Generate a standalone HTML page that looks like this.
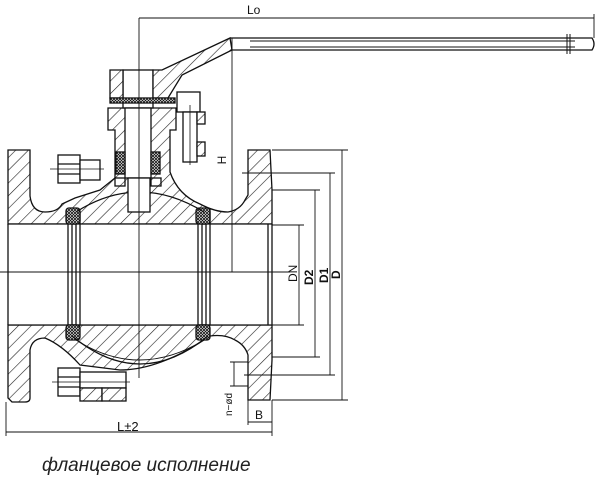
<!DOCTYPE html>
<html><head><meta charset="utf-8"><style>
html,body{margin:0;padding:0;background:#fff;width:603px;height:484px;overflow:hidden}
svg{display:block}
</style></head><body>
<svg width="603" height="484" viewBox="0 0 603 484" xmlns="http://www.w3.org/2000/svg">
<defs>
<pattern id="h" patternUnits="userSpaceOnUse" width="9" height="9" patternTransform="rotate(45)">
<rect width="9" height="9" fill="#fff"/><line x1="0" y1="0" x2="0" y2="9" stroke="#222" stroke-width="1.2"/>
</pattern>
<pattern id="x" patternUnits="userSpaceOnUse" width="3" height="3">
<rect width="3" height="3" fill="#fff"/><path d="M0,0L3,3M3,0L0,3" stroke="#111" stroke-width="0.8"/>
</pattern>
</defs>
<g fill="none" stroke="#111" stroke-width="1.3">
<path fill="url(#h)" d="M8,150 L30,150 L30,196 Q32,212 45,212 Q58,212 62,204 L75,198 L100,190 L115,178 L115,130 L108,130 L108,108 L176,108 L176,130 L170,130 L170,172 Q178,195 200,204 Q215,212 228,212 Q240,210 245,200 L248,195 L248,150 L270,150 L272,190 L272,224 L8,224 Z"/>
<path fill="url(#h)" d="M8,325 L272,325 L272,360 L270,400 L248,400 L248,355 Q245,345 235,340 Q225,334 210,336 Q160,370 120,370 L80,365 Q62,345 45,338 Q32,338 30,350 L30,398 Q30,402 25,402 L12,402 L8,398 Z"/>
<rect x="8" y="224" width="264" height="101" fill="#fff" stroke="none"/>
<line x1="8" y1="224" x2="272" y2="224"/><line x1="8" y1="325" x2="272" y2="325"/>
<line x1="8" y1="224" x2="8" y2="325"/><line x1="272" y1="224" x2="272" y2="325"/>
<line x1="268" y1="224" x2="268" y2="325"/>
<rect x="68" y="212" width="12" height="113"/><rect x="72" y="224" width="4" height="101"/>
<rect x="198" y="212" width="12" height="113"/><rect x="202" y="224" width="4" height="101"/>
<rect x="66" y="208" width="14" height="16" fill="url(#x)" rx="3"/>
<rect x="196" y="208" width="14" height="16" fill="url(#x)" rx="3"/>
<rect x="66" y="325" width="14" height="15" fill="url(#x)" rx="3"/>
<rect x="196" y="325" width="14" height="15" fill="url(#x)" rx="3"/>
<path d="M76,212 Q139,172 204,212"/>
<path d="M76,340 Q139,380 204,340" stroke-width="1"/>
<path d="M72,336 Q140,392 208,336"/>
<rect x="123" y="70" width="30" height="38" fill="#fff"/>
<rect x="125" y="108" width="26" height="70" fill="#fff"/>
<rect x="128" y="178" width="22" height="34" fill="#fff"/>
<rect x="115" y="178" width="10" height="8"/><rect x="151" y="178" width="10" height="8"/>
<rect x="116" y="152" width="9" height="22" fill="url(#x)"/>
<rect x="151" y="152" width="9" height="22" fill="url(#x)"/>
<path fill="url(#h)" d="M110,70 L123,70 L123,98 L110,98 Z"/>
<path fill="url(#h)" d="M153,70 L162,70 L230,38 L232,50 L182,75 L168,98 L153,98 Z"/>
<rect x="110" y="98" width="65" height="5" fill="url(#x)"/>
<path d="M230,38 L592,38 Q596,44 592,50 L232,50"/>
<line x1="250" y1="41" x2="575" y2="41" stroke-width="1"/>
<line x1="250" y1="47" x2="575" y2="47" stroke-width="1"/>
<line x1="567" y1="34" x2="567" y2="54" stroke-width="1"/>
<line x1="570" y1="34" x2="570" y2="54" stroke-width="1"/>
<rect x="177" y="92" width="23" height="20" fill="#fff"/>
<rect x="183" y="112" width="14" height="50" fill="#fff"/>
<line x1="190" y1="105" x2="190" y2="165" stroke-width="0.8"/>
<rect x="197" y="112" width="8" height="12" fill="url(#h)"/>
<rect x="197" y="142" width="8" height="14" fill="url(#h)"/>
<rect x="58" y="155" width="22" height="28" fill="#fff"/>
<line x1="58" y1="164" x2="80" y2="164"/><line x1="58" y1="174" x2="80" y2="174"/>
<rect x="80" y="160" width="20" height="20" fill="#fff"/>
<line x1="50" y1="169" x2="104" y2="169" stroke-width="0.8"/>
<rect x="58" y="368" width="22" height="28" fill="#fff"/>
<line x1="58" y1="377" x2="80" y2="377"/><line x1="58" y1="387" x2="80" y2="387"/>
<rect x="80" y="372" width="46" height="16" fill="#fff"/>
<rect x="80" y="388" width="22" height="13" fill="url(#h)"/>
<rect x="102" y="388" width="24" height="13" fill="url(#h)"/>
<line x1="52" y1="382" x2="130" y2="382" stroke-width="0.8"/>
<line x1="0" y1="272" x2="290" y2="272" stroke-width="0.9"/>
<line x1="139" y1="18" x2="139" y2="378" stroke-width="0.9"/>
<line x1="139" y1="18" x2="594" y2="18" stroke-width="0.9"/>
<line x1="594" y1="14" x2="594" y2="38" stroke-width="0.9"/>
<line x1="232" y1="38" x2="232" y2="272" stroke-width="0.9"/>
<line x1="272" y1="150" x2="348" y2="150" stroke-width="0.9"/>
<line x1="342" y1="150" x2="342" y2="400" stroke-width="0.9"/>
<line x1="272" y1="400" x2="348" y2="400" stroke-width="0.9"/>
<line x1="242" y1="173" x2="335" y2="173" stroke-width="0.9"/>
<line x1="330" y1="173" x2="330" y2="375" stroke-width="0.9"/>
<line x1="244" y1="375" x2="335" y2="375" stroke-width="0.9"/>
<line x1="272" y1="190" x2="320" y2="190" stroke-width="0.9"/>
<line x1="315" y1="190" x2="315" y2="357" stroke-width="0.9"/>
<line x1="272" y1="357" x2="320" y2="357" stroke-width="0.9"/>
<line x1="272" y1="225" x2="304" y2="225" stroke-width="0.9"/>
<line x1="299" y1="225" x2="299" y2="325" stroke-width="0.9"/>
<line x1="272" y1="325" x2="304" y2="325" stroke-width="0.9"/>
<line x1="230" y1="362" x2="248" y2="362" stroke-width="0.9"/>
<line x1="230" y1="386" x2="248" y2="386" stroke-width="0.9"/>
<line x1="234" y1="362" x2="234" y2="386" stroke-width="0.9"/>
<line x1="6" y1="402" x2="6" y2="436" stroke-width="0.9"/>
<line x1="272" y1="400" x2="272" y2="436" stroke-width="0.9"/>
<line x1="248" y1="400" x2="248" y2="425" stroke-width="0.9"/>
<line x1="248" y1="422" x2="272" y2="422" stroke-width="0.9"/>
<line x1="6" y1="432" x2="272" y2="432" stroke-width="0.9"/>
</g>
<g font-family="Liberation Sans, sans-serif" font-size="12" fill="#111">
<text x="247" y="14">Lo</text>
<text x="226" y="160" transform="rotate(-90 226 160)" text-anchor="middle">H</text>
<text x="297" y="282" transform="rotate(-90 297 282)">DN</text>
<text x="313" y="285" transform="rotate(-90 313 285)" font-weight="bold">D2</text>
<text x="328" y="283" transform="rotate(-90 328 283)" font-weight="bold">D1</text>
<text x="340" y="279" transform="rotate(-90 340 279)" font-weight="bold">D</text>
<text x="232" y="416" transform="rotate(-90 232 416)" font-size="10">n−ød</text>
<text x="255" y="419">B</text>
<text x="117" y="431" font-size="13">L±2</text>
<text x="42" y="471" font-size="19" font-style="italic" fill="#222">фланцевое исполнение</text>
</g>
</svg>
</body></html>
